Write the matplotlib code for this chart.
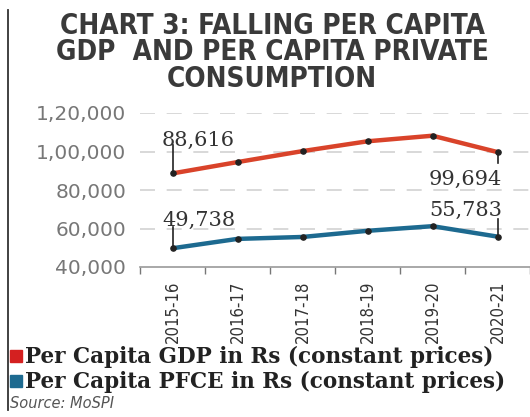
import numpy as np
import matplotlib.pyplot as plt
from matplotlib.patches import Rectangle
from matplotlib.lines import Line2D

years = ['2015-16', '2016-17', '2017-18', '2018-19', '2019-20', '2020-21']
gdp_pc = [88616, 94500, 100200, 105300, 108200, 99694]
pfce_pc = [49738, 54600, 55600, 58800, 61200, 55783]
ytick_vals = [40000, 60000, 80000, 100000, 120000]
ytick_text = ['40,000', '60,000', '80,000', '1,00,000', '1,20,000']

RED = '#d9432a'
BLUE = '#1d6a90'

fig = plt.figure(figsize=(5.30, 4.17), dpi=100)
ax = fig.add_axes([140/530, 1 - 267/417, 390/530, 154/417])

x = np.arange(len(years))
ax.plot(x, gdp_pc, color=RED, lw=3.2, solid_capstyle='butt', zorder=3)
ax.plot(x, pfce_pc, color=BLUE, lw=3.2, solid_capstyle='butt', zorder=3)
ax.scatter(x, gdp_pc, s=14, color='#222222', zorder=4)
ax.scatter(x, pfce_pc, s=14, color='#222222', zorder=4)

ax.set_xlim(-0.47, 5.5)
ax.set_ylim(40000, 120000)
ax.set_yticks(ytick_vals)
ax.set_yticklabels(ytick_text, fontsize=14.5, color='#777777', family='DejaVu Sans')
ax.tick_params(axis='y', length=0, pad=10)
for v in ytick_vals[1:]:
    ax.axhline(v, xmin=0, xmax=1, color='#d2d2d2', lw=1.2, dashes=(9, 7), zorder=1)

ax.set_xticks(x)
ax.set_xticklabels(years, rotation=90, fontsize=12, color='#333333',
                   family='DejaVu Sans', fontstretch='condensed')
ax.tick_params(axis='x', length=0, pad=10)
ax.set_xticks(np.append(x - 0.5, 5.5), minor=True)
ax.tick_params(axis='x', which='minor', length=5, color='#777777', width=1)

for s in ['top', 'right', 'left']:
    ax.spines[s].set_visible(False)
ax.spines['bottom'].set_color('#999999')
ax.spines['bottom'].set_linewidth(1.2)

# value callouts with thin leader lines
lab = dict(fontsize=15, color='#333333', family='DejaVu Serif')
def callout(xi, yv, yline, ytext, txt, ha, va):
    ax.add_line(Line2D([xi, xi], [yv, yline], color='#222222', lw=1.2, zorder=4))
    ax.text(xi - 0.16 if ha == 'left' else xi + 0.07, ytext, txt, ha=ha, va=va, **lab)

callout(0, gdp_pc[0], 103500, 103000, '88,616', 'left', 'baseline')
callout(0, pfce_pc[0], 61000, 61200, '49,738', 'left', 'baseline')
callout(5, gdp_pc[5], 94000, 82500, '99,694', 'right', 'baseline')
callout(5, pfce_pc[5], 64800, 66300, '55,783', 'right', 'baseline')

# title
title_font = dict(fontsize=20, fontweight='bold', color='#3a3a3a', ha='center', va='baseline',
                  family='DejaVu Sans', fontstretch='condensed')
fig.text(272/530, 1 - 34/417, 'CHART 3: FALLING PER CAPITA', **title_font)
fig.text(272/530, 1 - 60/417, 'GDP  AND PER CAPITA PRIVATE', **title_font)
fig.text(272/530, 1 - 87/417, 'CONSUMPTION', **title_font)

# legend
leg_font = dict(fontsize=15.5, color='#222222', family='DejaVu Serif', va='baseline',
                fontweight='bold')
fig.patches.append(Rectangle((10/530, 1 - 362/417), 12/530, 12/417, color='#d42020',
                             transform=fig.transFigure))
fig.text(25/530, 1 - 363/417, 'Per Capita GDP in Rs (constant prices)', **leg_font)
fig.patches.append(Rectangle((10/530, 1 - 387/417), 12/530, 12/417, color=BLUE,
                             transform=fig.transFigure))
fig.text(25/530, 1 - 388/417, 'Per Capita PFCE in Rs (constant prices)', **leg_font)
fig.text(10/530, 1 - 403/417, 'Source: MoSPI', fontsize=10.5, style='italic',
         color='#555555', va='center')

# left border rule
fig.add_artist(Line2D([8/530, 8/530], [1 - 410/417, 1 - 10/417], color='#333333', lw=1.3,
                      transform=fig.transFigure))

fig.savefig('out.png', dpi=100)
